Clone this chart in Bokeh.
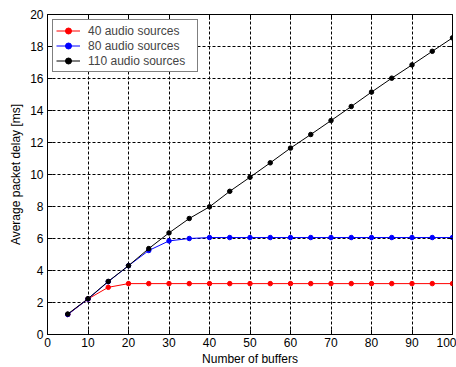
from bokeh.plotting import figure
from bokeh.models import Range1d, LinearAxis, FixedTicker, Legend, LegendItem, CustomJSTickFormatter
from bokeh.embed import file_html
from bokeh.resources import INLINE

buffers = [5, 10, 15, 20, 25, 30, 35, 40, 45, 50, 55, 60, 65, 70, 75, 80, 85, 90, 95, 100]
delay_40 = [1.25, 2.22, 2.95, 3.18, 3.18, 3.18, 3.18, 3.18, 3.18, 3.18, 3.18, 3.18, 3.18, 3.18, 3.18, 3.18, 3.18, 3.18, 3.18, 3.18]
delay_80 = [1.25, 2.22, 3.3, 4.3, 5.25, 5.85, 6.0, 6.06, 6.06, 6.06, 6.06, 6.06, 6.06, 6.06, 6.06, 6.06, 6.06, 6.06, 6.06, 6.06]
delay_110 = [1.28, 2.24, 3.32, 4.3, 5.37, 6.35, 7.25, 7.98, 8.95, 9.83, 10.73, 11.65, 12.5, 13.37, 14.25, 15.15, 16.02, 16.85, 17.7, 18.54]
series_names = ["40 audio sources", "80 audio sources", "110 audio sources"]
series_colors = ["#ff0000", "#0000ff", "#000000"]
x_ticks = [0, 10, 20, 30, 40, 50, 60, 70, 80, 90, 100]
y_ticks = [0, 2, 4, 6, 8, 10, 12, 14, 16, 18, 20]

FONT = "Liberation Sans"

p = figure(frame_width=405, frame_height=320, output_backend="svg", toolbar_location=None,
           x_range=Range1d(0, 100), y_range=Range1d(0, 20),
           min_border_left=47, min_border_right=4, min_border_top=14, min_border_bottom=33,
           x_axis_label="Number of buffers", y_axis_label="Average packet delay [ms]")
p.background_fill_color = "white"
p.border_fill_color = "white"
p.outline_line_color = "black"
p.outline_line_width = 1

for ax, ticks in ((p.xaxis[0], x_ticks), (p.yaxis[0], y_ticks)):
    ax.ticker = FixedTicker(ticks=ticks)
    ax.major_tick_in = 5
    ax.major_tick_out = 0
    ax.minor_tick_in = 0
    ax.minor_tick_out = 0
    ax.axis_line_color = "black"
    ax.major_label_text_font = FONT
    ax.major_label_text_font_size = "12px"
    ax.major_label_text_color = "black"
    ax.axis_label_text_font = FONT
    ax.axis_label_text_font_size = "12px"
    ax.axis_label_text_font_style = "normal"
    ax.axis_label_text_color = "black"

p.xaxis.major_label_standoff = 3
p.xaxis.axis_label_standoff = 2
p.yaxis.major_label_standoff = 4
p.yaxis.axis_label_standoff = 4

blank = CustomJSTickFormatter(code="return ''")
top_ax = LinearAxis(ticker=FixedTicker(ticks=x_ticks), major_tick_in=5, major_tick_out=0,
                    minor_tick_in=0, minor_tick_out=0, formatter=blank,
                    major_label_standoff=0, axis_line_color=None)
right_ax = LinearAxis(ticker=FixedTicker(ticks=y_ticks), major_tick_in=5, major_tick_out=0,
                      minor_tick_in=0, minor_tick_out=0, formatter=blank,
                      major_label_standoff=0, axis_line_color=None)
p.add_layout(top_ax, "above")
p.add_layout(right_ax, "right")

for g in (p.xgrid[0], p.ygrid[0]):
    g.grid_line_color = "black"
    g.grid_line_dash = "3 2"
    g.grid_line_width = 1
p.xgrid[0].ticker = FixedTicker(ticks=x_ticks)
p.ygrid[0].ticker = FixedTicker(ticks=y_ticks)

items = []
for name, ys, col in zip(series_names, [delay_40, delay_80, delay_110], series_colors):
    ln = p.line(buffers, ys, line_color=col, line_width=1)
    sc = p.scatter(buffers, ys, marker="circle", size=4.5, fill_color=col, line_color=col)
    items.append(LegendItem(label=name, renderers=[ln, sc]))

legend = Legend(items=items, location="top_left", margin=5, padding=3, spacing=0,
                glyph_width=24, glyph_height=15, label_height=15, label_width=106,
                label_standoff=8, label_text_font=FONT, label_text_font_size="12px",
                border_line_color="black", border_line_width=1,
                background_fill_color="white", background_fill_alpha=1.0)
p.add_layout(legend, "center")

open("out.html", "w").write(file_html(p, INLINE))
